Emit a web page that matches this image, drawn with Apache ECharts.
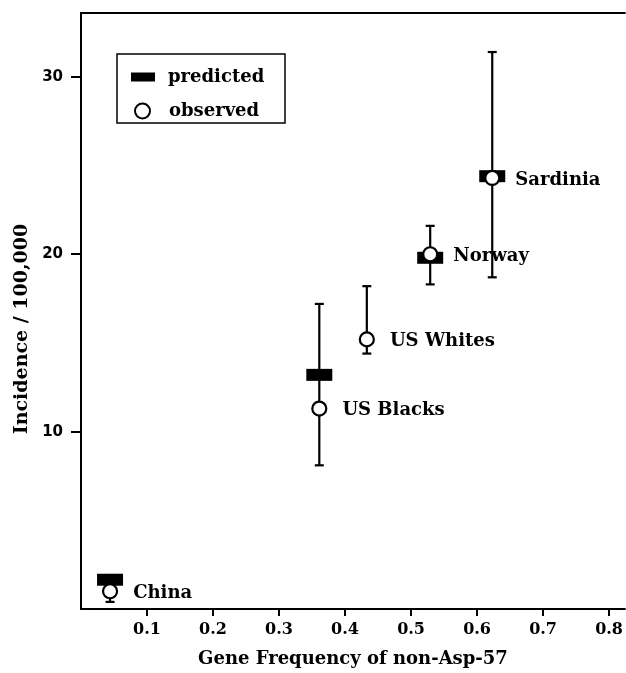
<!DOCTYPE html>
<html>
<head>
<meta charset="utf-8">
<script src="https://cdn.jsdelivr.net/npm/echarts@6/dist/echarts.min.js"></script>
<style>
  html, body { margin: 0; padding: 0; background: #fff; }
  #chart { width: 626px; height: 673px; }
</style>
</head>
<body>
<div id="chart"></div>
<script>
// values
const countries = ['China', 'US Blacks', 'US Whites', 'Norway', 'Sardinia'];
const geneFreq  = [0.044, 0.361, 0.433, 0.529, 0.623];
const observed  = [1.0, 11.3, 15.2, 20.0, 24.3];
const predicted = [1.65, 13.2, null, 19.8, 24.4];
const errLow    = [0.4, 8.1, 14.4, 18.3, 18.7];
const errHigh   = [1.7, 17.2, 18.2, 21.6, 31.4];
const xTicks = [0.1, 0.2, 0.3, 0.4, 0.5, 0.6, 0.7, 0.8];
const yTicks = [10, 20, 30];

const serif = 'DejaVu Serif';
const ink = '#000';

let chart = echarts.init(document.getElementById('chart'));

// error bars drawn through the axes
function renderErr(params, api) {
    const x = api.value(0);
    const lo = api.coord([x, api.value(1)]);
    const hi = api.coord([x, api.value(2)]);
    const cap = 4.5;
    const st = { stroke: ink, lineWidth: 2.2 };
    return {
        type: 'group',
        children: [
            { type: 'line', shape: { x1: lo[0], y1: lo[1], x2: hi[0], y2: hi[1] }, style: st },
            { type: 'line', shape: { x1: hi[0] - cap, y1: hi[1], x2: hi[0] + cap, y2: hi[1] }, style: st },
            { type: 'line', shape: { x1: lo[0] - cap, y1: lo[1], x2: lo[0] + cap, y2: lo[1] }, style: st }
        ]
    };
}

const errData = geneFreq.map((x, i) => [x, errLow[i], errHigh[i]]);
const predData = geneFreq.map((x, i) => [x, predicted[i]]).filter(d => d[1] != null);
const obsData = geneFreq.map((x, i) => [x, observed[i]]);

const legendText = { fontFamily: serif, fontWeight: 'bold', fontSize: 18, color: ink, lineHeight: 20 };

let option = {
    animation: false,
    backgroundColor: '#fff',
    grid: { left: 81, right: 0, top: 13, bottom: 64 },
    xAxis: [{
        type: 'value',
        min: 0, max: 0.824,
        position: 'bottom',
        name: 'Gene Frequency of non-Asp-57',
        nameLocation: 'middle',
        nameGap: 41,
        nameTextStyle: { fontFamily: serif, fontWeight: 'bold', fontSize: 18, color: ink },
        axisLine: { lineStyle: { color: ink, width: 2 } },
        axisTick: { customValues: xTicks, length: 7, lineStyle: { color: ink, width: 2 } },
        axisLabel: {
            customValues: xTicks, margin: 13,
            formatter: v => v.toFixed(1),
            fontFamily: serif, fontWeight: 'bold', fontSize: 16, color: ink
        },
        splitLine: { show: false }
    }, {
        type: 'value',
        min: 0, max: 0.824,
        position: 'top',
        axisLine: { lineStyle: { color: ink, width: 2 } },
        axisTick: { show: false },
        axisLabel: { show: false },
        splitLine: { show: false }
    }],
    yAxis: {
        type: 'value',
        min: 0, max: 33.6,
        name: 'Incidence / 100,000',
        nameLocation: 'middle',
        nameGap: 49,
        nameTextStyle: { fontFamily: serif, fontWeight: 'bold', fontSize: 19, color: ink, padding: [0, 36, 0, 0] },
        axisLine: { lineStyle: { color: ink, width: 2 } },
        axisTick: { customValues: yTicks, length: 10, lineStyle: { color: ink, width: 2 } },
        axisLabel: {
            customValues: yTicks, margin: 18,
            fontFamily: 'DejaVu Sans', fontWeight: 'bold', fontSize: 15, color: ink
        },
        splitLine: { show: false }
    },
    graphic: [{
        type: 'rect',
        shape: { x: 117, y: 54, width: 168, height: 69 },
        style: { fill: 'none', stroke: ink, lineWidth: 1.5 }
    }],
    legend: [{
        data: [{ name: 'predicted', icon: 'rect', itemStyle: { color: ink, borderWidth: 0 } }],
        left: 131, top: 67, padding: 0,
        itemWidth: 24, itemHeight: 9,
        textStyle: Object.assign({ padding: [0, 0, 0, 8] }, legendText),
        selectedMode: false
    }, {
        data: [{ name: 'observed', icon: 'circle', itemStyle: { color: '#fff', borderColor: ink, borderWidth: 2 } }],
        left: 134, top: 101, padding: 0,
        itemWidth: 15, itemHeight: 15,
        textStyle: Object.assign({ padding: [0, 0, 0, 14] }, legendText),
        selectedMode: false
    }],
    series: [{
        name: 'error',
        type: 'custom',
        renderItem: renderErr,
        data: errData,
        z: 1
    }, {
        name: 'predicted',
        type: 'scatter',
        symbol: 'rect',
        symbolSize: [26, 12],
        itemStyle: { color: ink, opacity: 1 },
        data: predData,
        z: 2
    }, {
        name: 'observed',
        type: 'scatter',
        symbol: 'circle',
        symbolSize: 14,
        itemStyle: { color: '#fff', borderColor: ink, borderWidth: 2.2, opacity: 1 },
        label: {
            show: true,
            position: 'right',
            distance: 15,
            offset: [0, 2],
            formatter: p => countries[p.dataIndex],
            fontFamily: serif, fontWeight: 'bold', fontSize: 18, color: ink
        },
        data: obsData,
        z: 3
    }]
};

chart.setOption(option);
</script>
</body>
</html>
